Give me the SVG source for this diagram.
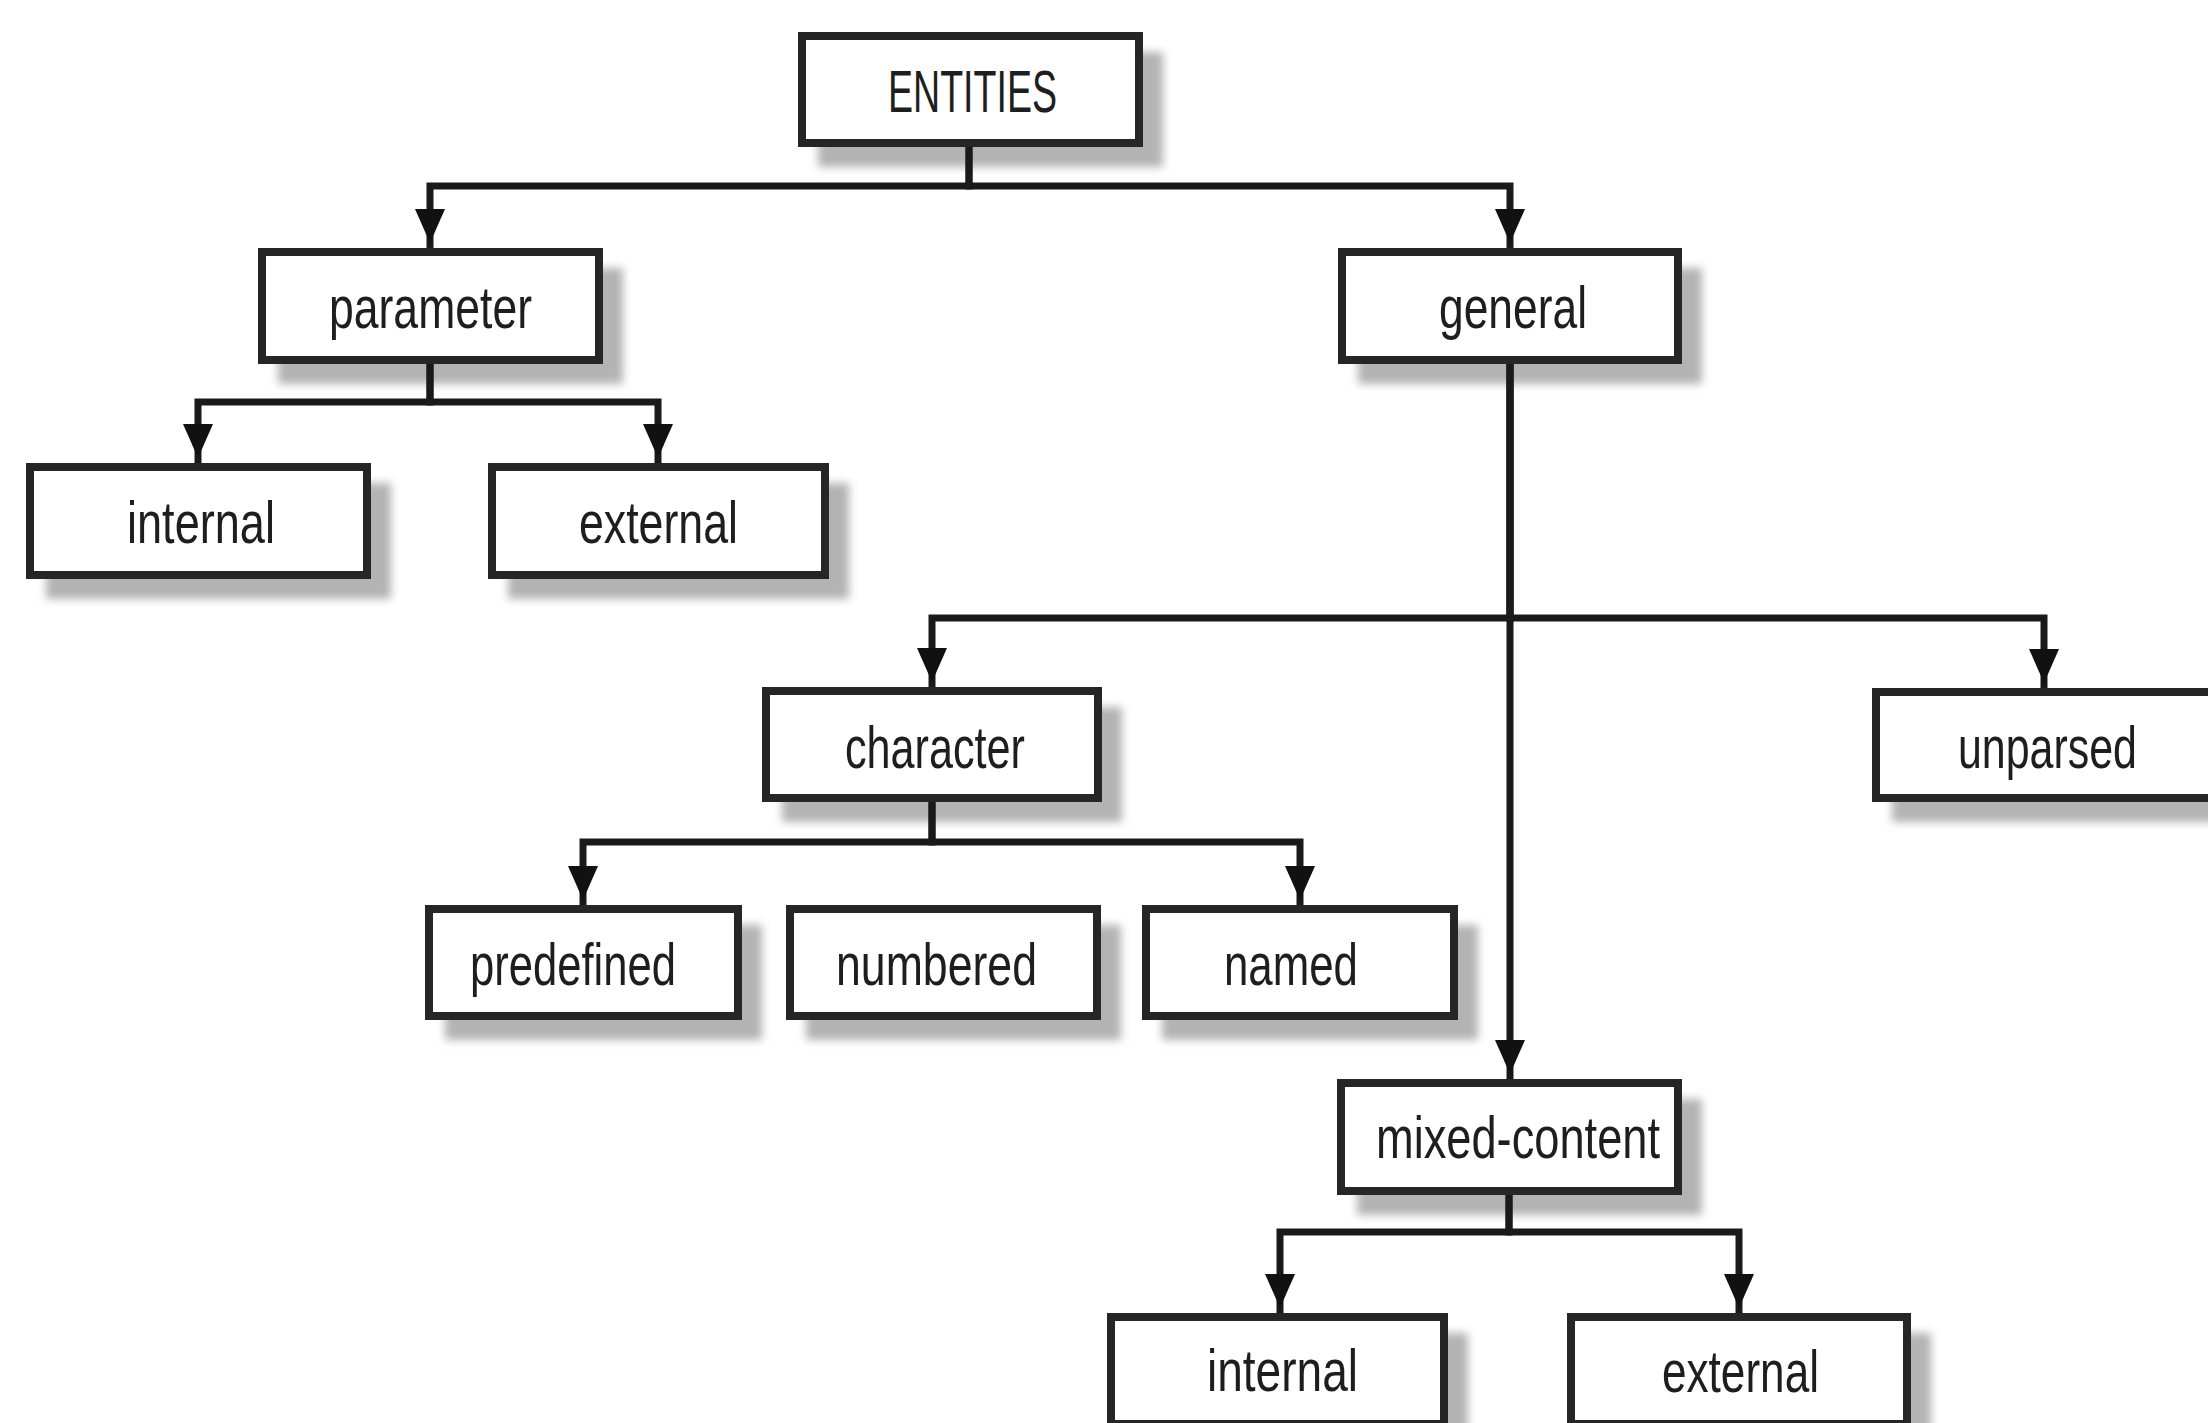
<svg xmlns="http://www.w3.org/2000/svg" width="2208" height="1423" viewBox="0 0 2208 1423">
  <defs>
    <style>
      .box { fill: #ffffff; stroke: #262626; stroke-width: 8; filter: url(#shadow); }
      .label { font-family: "Liberation Sans Narrow", "Liberation Sans", Arial, sans-serif; font-size: 60px; fill: #1e1e1e; }
      .link { fill: none; stroke: #1a1a1a; stroke-width: 7; stroke-linejoin: miter; marker-end: url(#arrow); }
      .plain { fill: none; stroke: #1a1a1a; stroke-width: 7; }
    </style>
    <filter id="shadow" x="-10%" y="-20%" width="130%" height="170%">
      <feDropShadow dx="20" dy="20" stdDeviation="4" flood-color="#a0a0a0" flood-opacity="0.8"/>
    </filter>
    <marker id="arrow" markerUnits="userSpaceOnUse" markerWidth="40" markerHeight="30" refX="39" refY="15" orient="auto" overflow="visible">
      <path d="M0,0 L34,15 L0,30 z" fill="#111111"/>
    </marker>
  </defs>
  <rect width="2208" height="1423" fill="#ffffff"/>

  <!-- nodes -->
  <g id="node-entities">
    <rect class="box" x="802" y="36" width="337" height="107"/>
    <text class="label" x="888" y="112" textLength="169" lengthAdjust="spacingAndGlyphs">ENTITIES</text>
  </g>
  <g id="node-parameter">
    <rect class="box" x="262" y="252" width="337" height="108"/>
    <text class="label" x="329" y="328" textLength="203" lengthAdjust="spacingAndGlyphs">parameter</text>
  </g>
  <g id="node-general">
    <rect class="box" x="1342" y="252" width="336" height="108"/>
    <text class="label" x="1439" y="328" textLength="148" lengthAdjust="spacingAndGlyphs">general</text>
  </g>
  <g id="node-param-internal">
    <rect class="box" x="30" y="467" width="337" height="108"/>
    <text class="label" x="127" y="543" textLength="148" lengthAdjust="spacingAndGlyphs">internal</text>
  </g>
  <g id="node-param-external">
    <rect class="box" x="492" y="467" width="333" height="108"/>
    <text class="label" x="579" y="543" textLength="159" lengthAdjust="spacingAndGlyphs">external</text>
  </g>
  <g id="node-character">
    <rect class="box" x="766" y="691" width="332" height="107"/>
    <text class="label" x="845" y="768" textLength="180" lengthAdjust="spacingAndGlyphs">character</text>
  </g>
  <g id="node-unparsed">
    <rect class="box" x="1876" y="692" width="337" height="106"/>
    <text class="label" x="1958" y="768" textLength="179" lengthAdjust="spacingAndGlyphs">unparsed</text>
  </g>
  <g id="node-predefined">
    <rect class="box" x="429" y="909" width="309" height="107"/>
    <text class="label" x="470" y="985" textLength="206" lengthAdjust="spacingAndGlyphs">predefined</text>
  </g>
  <g id="node-numbered">
    <rect class="box" x="790" y="909" width="307" height="107"/>
    <text class="label" x="836" y="985" textLength="201" lengthAdjust="spacingAndGlyphs">numbered</text>
  </g>
  <g id="node-named">
    <rect class="box" x="1146" y="909" width="308" height="107"/>
    <text class="label" x="1224" y="985" textLength="134" lengthAdjust="spacingAndGlyphs">named</text>
  </g>
  <g id="node-mixed-content">
    <rect class="box" x="1341" y="1083" width="337" height="108"/>
    <text class="label" x="1376" y="1158" textLength="284" lengthAdjust="spacingAndGlyphs">mixed-content</text>
  </g>
  <g id="node-mixed-internal">
    <rect class="box" x="1111" y="1317" width="333" height="107"/>
    <text class="label" x="1207" y="1391" textLength="151" lengthAdjust="spacingAndGlyphs">internal</text>
  </g>
  <g id="node-mixed-external">
    <rect class="box" x="1571" y="1317" width="336" height="107"/>
    <text class="label" x="1662" y="1392" textLength="157" lengthAdjust="spacingAndGlyphs">external</text>
  </g>

  <!-- connectors -->
  <g id="connectors">
    <path class="link" d="M969,147 V186 H430 V248"/>
    <path class="link" d="M969,147 V186 H1510 V248"/>
    <path class="link" d="M430,364 V402 H198 V463"/>
    <path class="link" d="M430,364 V402 H658 V463"/>
    <path class="link" d="M1510,364 V618 H932 V687"/>
    <path class="link" d="M1510,364 V618 H2044 V688"/>
    <path class="link" d="M1510,364 V1079"/>
    <path class="link" d="M932,802 V842 H583 V905"/>
    <path class="link" d="M932,802 V842 H1300 V905"/>
    <path class="link" d="M1509,1195 V1232 H1280 V1313"/>
    <path class="link" d="M1509,1195 V1232 H1739 V1313"/>
  </g>
</svg>
